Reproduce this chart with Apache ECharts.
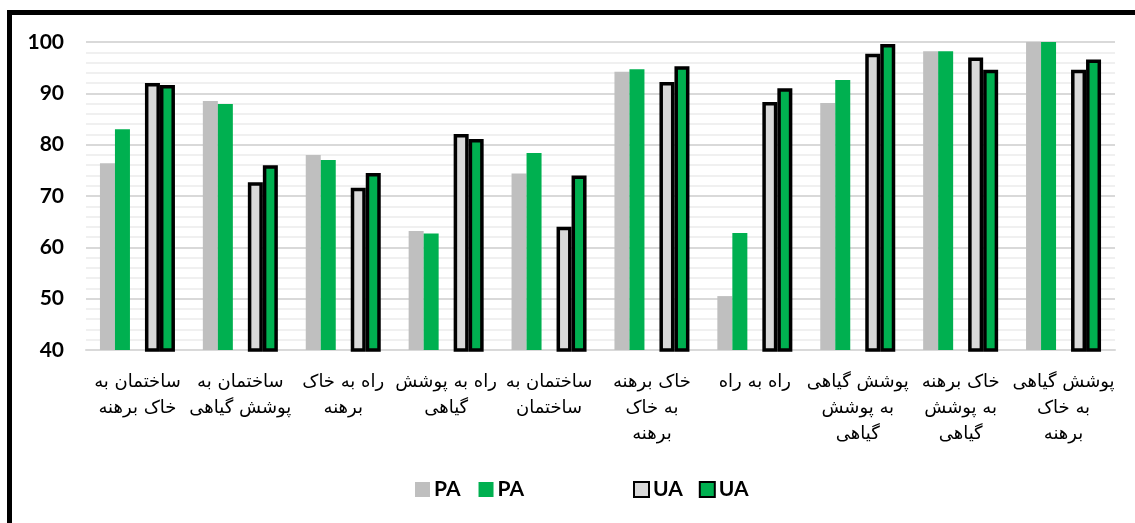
<!DOCTYPE html>
<html>
<head>
<meta charset="utf-8">
<script src="https://cdn.jsdelivr.net/npm/echarts@6/dist/echarts.min.js"></script>
<style>
html,body{margin:0;padding:0;background:#fff;}
#c{width:1135px;height:523px;}
</style>
</head>
<body>
<div id="c"></div>
<script>
const categories = [
  'ساختمان به\nخاک برهنه',
  'ساختمان به\nپوشش گیاهی',
  'راه به خاک\nبرهنه',
  'راه به پوشش\nگیاهی',
  'ساختمان به\nساختمان',
  'خاک برهنه\nبه خاک\nبرهنه',
  'راه به راه',
  'پوشش گیاهی\nبه پوشش\nگیاهی',
  'خاک برهنه\nبه پوشش\nگیاهی',
  'پوشش گیاهی\nبه خاک\nبرهنه'
];
const paGray  = [76.4, 88.5, 78.0, 63.2, 74.4, 94.2, 50.5, 88.1, 98.2, 100];
const paGreen = [83.0, 87.9, 77.0, 62.7, 78.4, 94.7, 62.8, 92.6, 98.2, 100];
const uaGray  = [92.0, 72.7, 71.6, 82.1, 64.0, 92.2, 88.3, 97.7, 97.0, 94.6];
const uaGreen = [91.6, 76.0, 74.5, 81.1, 74.0, 95.3, 91.0, 99.6, 94.6, 96.6];
const spacer  = categories.map(() => null);
const yTicks = {min: 40, max: 100, interval: 10};

const chart = echarts.init(document.getElementById('c'), null, {renderer: 'canvas'});
const bw = 15;
const legendText = {fontFamily: 'Lato', fontWeight: 'bold', fontSize: 21, color: '#000', padding: [0, 0, 0, -1]};
chart.setOption({
  animation: false,
  backgroundColor: '#fff',
  graphic: [
    {type: 'rect', shape: {x: 7, y: 10, width: 1128, height: 5}, style: {fill: '#000'}, silent: true},
    {type: 'rect', shape: {x: 7, y: 10, width: 5, height: 513}, style: {fill: '#000'}, silent: true}
  ],
  grid: {left: 86, right: 20, top: 42, bottom: 173},
  legend: [
    {
      data: ['PA', 'PA '], left: 410, top: 474, itemWidth: 15, itemHeight: 15, itemGap: 18, icon: 'rect',
      formatter: n => n.trim(), textStyle: legendText
    },
    {
      data: ['UA', 'UA '], left: 628, top: 474, itemWidth: 15, itemHeight: 15, itemGap: 16, icon: 'rect',
      formatter: n => n.trim(), textStyle: legendText
    }
  ],
  xAxis: {
    type: 'category',
    data: categories,
    axisLine: {lineStyle: {color: '#d9d9d9', width: 2}},
    axisTick: {show: false},
    axisLabel: {
      interval: 0, margin: 19, color: '#000', fontSize: 18, lineHeight: 26,
      fontFamily: 'DejaVu Sans', align: 'center'
    }
  },
  yAxis: {
    type: 'value',
    min: yTicks.min, max: yTicks.max, interval: yTicks.interval,
    axisLine: {show: false},
    axisTick: {show: false},
    axisLabel: {color: '#000', fontSize: 21, fontWeight: 'bold', fontFamily: 'Lato', margin: 22},
    splitLine: {lineStyle: {color: '#d9d9d9', width: 2}},
    minorTick: {show: false, splitNumber: 5},
    minorSplitLine: {show: true, lineStyle: {color: '#f0f0f0', width: 2}}
  },
  series: [
    {name: 'PA', type: 'bar', data: paGray, barWidth: bw, barGap: '0%', itemStyle: {color: '#bfbfbf'}},
    {name: 'PA ', type: 'bar', data: paGreen, barWidth: bw, barGap: '0%', itemStyle: {color: '#00b050'}},
    {name: 'spacer', type: 'bar', data: spacer, barWidth: bw, barGap: '0%', itemStyle: {color: 'transparent'}},
    {name: 'UA', type: 'bar', data: uaGray, barWidth: bw, barGap: '0%', itemStyle: {color: '#d9d9d9', borderColor: '#000', borderWidth: 3.5}},
    {name: 'UA ', type: 'bar', data: uaGreen, barWidth: bw, barGap: '0%', itemStyle: {color: '#00b050', borderColor: '#000', borderWidth: 3.5}}
  ]
});
</script>
</body>
</html>
